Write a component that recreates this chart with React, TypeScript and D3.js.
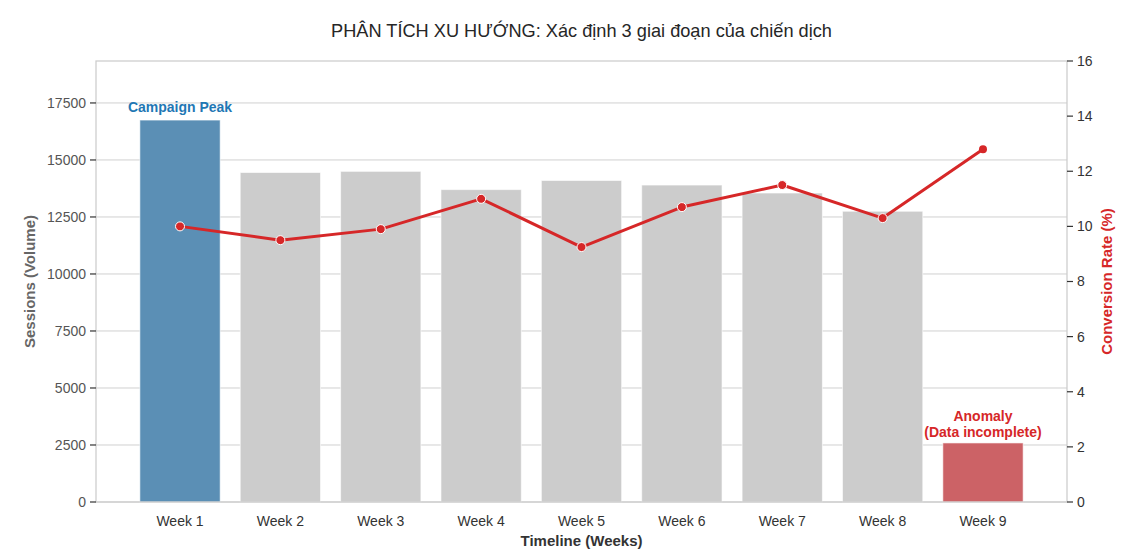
import React from "react";
import * as d3 from "d3";

const weeks = ["Week 1", "Week 2", "Week 3", "Week 4", "Week 5", "Week 6", "Week 7", "Week 8", "Week 9"];
const sessions = [16750, 14450, 14500, 13700, 14100, 13900, 13550, 12750, 2590];
const conversionRate = [10.0, 9.5, 9.9, 11.0, 9.25, 10.7, 11.5, 10.3, 12.8];
const sessionTicks = [0, 2500, 5000, 7500, 10000, 12500, 15000, 17500];
const rateTicks = [0, 2, 4, 6, 8, 10, 12, 14, 16];

const W = 1130;
const H = 552;
const M = { left: 96, right: 1067, top: 61, bottom: 502 };
const FONT = "'Liberation Sans', Arial, sans-serif";

const BLUE = "#1f77b4";
const RED = "#d62728";
const PEAK_BAR = "#5b8fb5";
const ANOMALY_BAR = "#cc6266";
const BASE_BAR = "#cccccc";

export default function App() {
  const x = d3.scaleLinear().domain([-0.837, weeks.length - 1 + 0.837]).range([M.left, M.right]);
  const step = x(1) - x(0);
  const barW = step * 0.8;
  const yL = d3.scaleLinear().domain([0, 19340]).range([M.bottom, M.top]);
  const yR = d3.scaleLinear().domain([0, 16]).range([M.bottom, M.top]);

  const line = d3
    .line<number>()
    .x((_, i) => x(i))
    .y((d) => yR(d));

  const last = weeks.length - 1;
  const barFill = (i: number) => (i === 0 ? PEAK_BAR : i === last ? ANOMALY_BAR : BASE_BAR);

  return (
    <svg
      width={W}
      height={H}
      style={{ position: "absolute", left: 0, top: 0, background: "#fff" }}
      fontFamily={FONT}
    >
      <rect x={0} y={0} width={W} height={H} fill="#fff" />
      {/* title */}
      <text x={(M.left + M.right) / 2} y={37} textAnchor="middle" fontSize={18.2} fill="#262626">
        PHÂN TÍCH XU HƯỚNG: Xác định 3 giai đoạn của chiến dịch
      </text>

      {/* horizontal grid from the sessions axis */}
      {sessionTicks.map((t) => (
        <line key={t} x1={M.left} x2={M.right} y1={yL(t)} y2={yL(t)} stroke="#d0d0d0" strokeWidth={1} />
      ))}

      {/* session bars */}
      {sessions.map((v, i) => (
        <rect
          key={weeks[i]}
          x={x(i) - barW / 2}
          y={yL(v)}
          width={barW}
          height={yL(0) - yL(v)}
          fill={barFill(i)}
          stroke="#ffffff"
          strokeOpacity={0.6}
          strokeWidth={1}
        />
      ))}

      {/* frame */}
      <rect
        x={M.left}
        y={M.top}
        width={M.right - M.left}
        height={M.bottom - M.top}
        fill="none"
        stroke="#cccccc"
        strokeWidth={1.25}
      />

      {/* conversion rate line */}
      <path d={line(conversionRate) || ""} fill="none" stroke={RED} strokeWidth={3} strokeLinejoin="round" />
      {conversionRate.map((v, i) =>
        i === last ? (
          <circle key={i} cx={x(i)} cy={yR(v)} r={4} fill={RED} />
        ) : (
          <circle key={i} cx={x(i)} cy={yR(v)} r={4.5} fill={RED} stroke="#fff" strokeWidth={1} />
        )
      )}

      {/* left axis */}
      {sessionTicks.map((t) => (
        <g key={t}>
          <line x1={M.left - 6} x2={M.left} y1={yL(t)} y2={yL(t)} stroke="#333" strokeWidth={1.2} />
          <text x={M.left - 10} y={yL(t)} dy="0.35em" textAnchor="end" fontSize={14} fill="#555">
            {t}
          </text>
        </g>
      ))}
      <text
        transform={`translate(35,${(M.top + M.bottom) / 2}) rotate(-90)`}
        textAnchor="middle"
        fontSize={15}
        fontWeight="bold"
        fill="#666"
      >
        Sessions (Volume)
      </text>

      {/* right axis */}
      {rateTicks.map((t) => (
        <g key={t}>
          <line x1={M.right} x2={M.right + 6} y1={yR(t)} y2={yR(t)} stroke="#333" strokeWidth={1.2} />
          <text x={M.right + 10} y={yR(t)} dy="0.35em" textAnchor="start" fontSize={14} fill="#333">
            {t}
          </text>
        </g>
      ))}
      <text
        transform={`translate(1112,${(M.top + M.bottom) / 2}) rotate(-90)`}
        textAnchor="middle"
        fontSize={15}
        fontWeight="bold"
        fill={RED}
      >
        Conversion Rate (%)
      </text>

      {/* x axis */}
      {weeks.map((w, i) => (
        <text key={w} x={x(i)} y={526} textAnchor="middle" fontSize={14} fill="#333">
          {w}
        </text>
      ))}
      <text x={(M.left + M.right) / 2} y={546} textAnchor="middle" fontSize={15} fontWeight="bold" fill="#333">
        Timeline (Weeks)
      </text>

      {/* annotations */}
      <text x={x(0)} y={yL(sessions[0]) - 8} textAnchor="middle" fontSize={14} fontWeight="bold" fill={BLUE}>
        Campaign Peak
      </text>
      <text x={x(last)} textAnchor="middle" fontSize={14} fontWeight="bold" fill={RED}>
        <tspan x={x(last)} y={yL(sessions[last]) - 22}>Anomaly</tspan>
        <tspan x={x(last)} y={yL(sessions[last]) - 6}>(Data incomplete)</tspan>
      </text>
    </svg>
  );
}
